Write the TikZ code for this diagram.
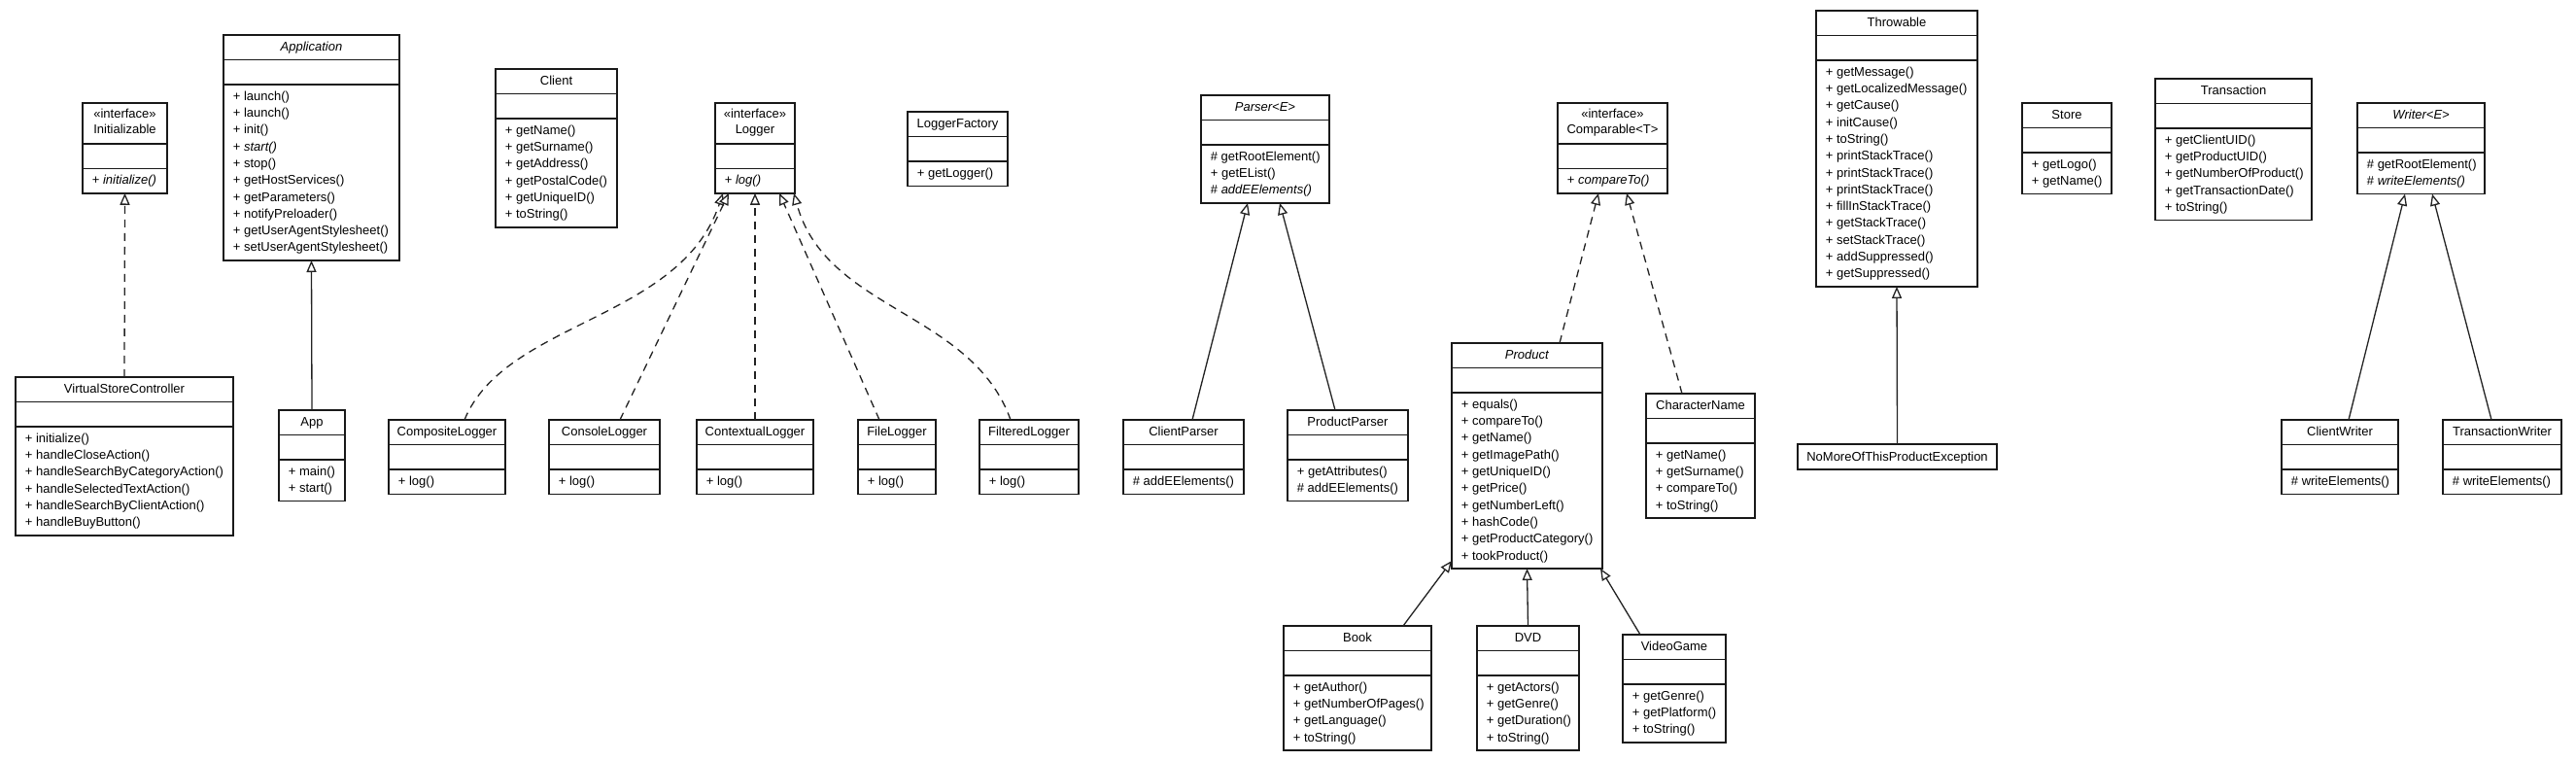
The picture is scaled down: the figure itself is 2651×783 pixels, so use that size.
\documentclass[tikz,border=0pt]{standalone}
\usepackage{fontspec}
\setmainfont{Liberation Sans}
\usetikzlibrary{arrows.meta}
\definecolor{boxcol}{RGB}{25,25,25}
\definecolor{linecol}{RGB}{35,35,35}
\newcommand\umlfont{\fontsize{13pt}{17.3pt}\selectfont}
\tikzset{
  classbox/.style={draw=boxcol, line width=1.5pt, fill=white, inner sep=0pt, outer sep=0pt},
  compline/.style={draw=boxcol, line width=1.5pt},
  nametext/.style={inner sep=0pt, anchor=base, font=\umlfont},
  optext/.style={inner sep=0pt, anchor=base west, font=\umlfont},
  gen/.style={draw=linecol, line width=1.3pt, -{Triangle[open, length=12pt, width=10pt, fill=white]}},
  real/.style={gen, dash pattern=on 8pt off 6pt},
}
% body: id, left, top, width, name height, n ops, ops list
\newcommand\umlbody[7]{%
  \pgfmathsetmacro\umlh{#5+25.5+8+17.3*#6}
  \node[classbox, minimum width=#4pt, minimum height=\umlh pt, anchor=north west] (#1) at (#2,#3) {};
  \draw[compline] ([yshift=-#5pt]#1.north west) -- ([yshift=-#5pt]#1.north east);
  \pgfmathsetmacro\umlb{#5+25.5}
  \draw[compline] ([yshift=-\umlb pt]#1.north west) -- ([yshift=-\umlb pt]#1.north east);
  \foreach \m [count=\i from 0] in {#7} {
    \pgfmathsetmacro\umly{#5+25.5+16.3+17.3*\i}
    \node[optext] (#1-op\i) at ([xshift=9.7pt, yshift=-\umly pt]#1.north west) {\m};
  }
}
% class: id, left, top, width, name, n, ops
\newcommand\umlclass[7]{%
  \umlbody{#1}{#2}{#3}{#4}{25.5}{#6}{#7}
  \node[nametext] (#1-name) at ([yshift=-16.8pt]#1.north) {#5};
}
\newcommand\umliface[7]{%
  \umlbody{#1}{#2}{#3}{#4}{42}{#6}{#7}
  \node[nametext] (#1-st) at ([yshift=-15.7pt]#1.north) {«interface»};
  \node[nametext] (#1-name) at ([yshift=-32pt]#1.north) {#5};
}
\begin{document}
\begin{tikzpicture}[x=1pt, y=-1pt]
\fill[white] (0,0) rectangle (2651,783);
\useasboundingbox (0,0) rectangle (2651,783);

\umliface{init}{85}{106}{87}{Initializable}{1}{+ \textit{initialize()}}
\umlclass{application}{230}{36}{181}{\textit{Application}}{10}{+ launch(), + launch(), + init(), + \textit{start()}, + stop(), + getHostServices(), + getParameters(), + notifyPreloader(), + getUserAgentStylesheet(), + setUserAgentStylesheet()}
\umlclass{vsc}{16}{388}{224}{VirtualStoreController}{6}{+ initialize(), + handleCloseAction(), + handleSearchByCategoryAction(), + handleSelectedTextAction(), + handleSearchByClientAction(), + handleBuyButton()}
\umlclass{app}{287}{422}{68}{App}{2}{+ main(), + start()}
\umlclass{client}{510}{71}{125}{Client}{6}{+ getName(), + getSurname(), + getAddress(), + getPostalCode(), + getUniqueID(), + toString()}
\umliface{logger}{736}{106}{82}{Logger}{1}{+ \textit{log()}}
\umlclass{loggerfactory}{934}{115}{103}{LoggerFactory}{1}{+ getLogger()}
\umlclass{complog}{400}{432}{120}{CompositeLogger}{1}{+ log()}
\umlclass{conslog}{565}{432}{114}{ConsoleLogger}{1}{+ log()}
\umlclass{ctxlog}{717}{432}{120}{ContextualLogger}{1}{+ log()}
\umlclass{filelog}{883}{432}{80}{FileLogger}{1}{+ log()}
\umlclass{filtlog}{1008}{432}{102}{FilteredLogger}{1}{+ log()}
\umlclass{parser}{1236}{98}{132}{\textit{Parser<E>}}{3}{\# getRootElement(), + getEList(), \# \textit{addEElements()}}
\umlclass{clientparser}{1156}{432}{124}{ClientParser}{1}{\# addEElements()}
\umlclass{productparser}{1325}{422}{124}{ProductParser}{2}{+ getAttributes(), \# addEElements()}
\umliface{comparable}{1603}{106}{113}{Comparable<T>}{1}{+ \textit{compareTo()}}
\umlclass{product}{1494}{353}{155}{\textit{Product}}{10}{+ equals(), + compareTo(), + getName(), + getImagePath(), + getUniqueID(), + getPrice(), + getNumberLeft(), + hashCode(), + getProductCategory(), + tookProduct()}
\umlclass{charname}{1694}{405}{112}{CharacterName}{4}{+ getName(), + getSurname(), + compareTo(), + toString()}
\umlclass{book}{1321}{644}{152}{Book}{4}{+ getAuthor(), + getNumberOfPages(), + getLanguage(), + toString()}
\umlclass{dvd}{1520}{644}{105}{DVD}{4}{+ getActors(), + getGenre(), + getDuration(), + toString()}
\umlclass{videogame}{1670}{653}{106}{VideoGame}{3}{+ getGenre(), + getPlatform(), + toString()}
\umlclass{throwable}{1869}{11}{166}{Throwable}{13}{+ getMessage(), + getLocalizedMessage(), + getCause(), + initCause(), + toString(), + printStackTrace(), + printStackTrace(), + printStackTrace(), + fillInStackTrace(), + getStackTrace(), + setStackTrace(), + addSuppressed(), + getSuppressed()}
\node[classbox, minimum width=205pt, minimum height=26pt, anchor=north west] (nomore) at (1850,457) {};
\node[nametext] (nomore-name) at ([yshift=-17.3pt]nomore.north) {NoMoreOfThisProductException};
\umlclass{store}{2081}{106}{92}{Store}{2}{+ getLogo(), + getName()}
\umlclass{transaction}{2218}{81}{161}{Transaction}{5}{+ getClientUID(), + getProductUID(), + getNumberOfProduct(), + getTransactionDate(), + toString()}
\umlclass{writer}{2426}{106}{131}{\textit{Writer<E>}}{2}{\# getRootElement(), \# \textit{writeElements()}}
\umlclass{clientwriter}{2348}{432}{120}{ClientWriter}{1}{\# writeElements()}
\umlclass{transwriter}{2514}{432}{122}{TransactionWriter}{1}{\# writeElements()}

% connectors
\draw[real] (vsc.north) -- (init.south);
\draw[gen] (app.north) -- (application.south);
\draw[real] ([xshift=18pt]complog.north) .. controls (520,330) and (700,330) .. ([xshift=-33pt]logger.south);
\draw[real] ([xshift=16pt]conslog.north) -- ([xshift=-27pt]logger.south);
\draw[real] (ctxlog.north) -- (logger.south);
\draw[real] ([xshift=-18pt]filelog.north) -- ([xshift=25pt]logger.south);
\draw[real] ([xshift=-19pt]filtlog.north) .. controls (1000,320) and (850,320) .. ([xshift=40pt]logger.south);
\draw[gen] ([xshift=9pt]clientparser.north) -- ([xshift=-18pt]parser.south);
\draw[gen] ([xshift=-13pt]productparser.north) -- ([xshift=15pt]parser.south);
\draw[real] ([xshift=33.5pt]product.north) -- ([xshift=-14.5pt]comparable.south);
\draw[real] ([xshift=-19pt]charname.north) -- ([xshift=14.5pt]comparable.south);
\draw[gen] ([xshift=47pt]book.north) -- ([yshift=8pt]product.south west);
\draw[gen] (dvd.north) -- (product.south);
\draw[gen] ([xshift=-35pt]videogame.north) -- ([xshift=-2pt]product.south east);
\draw[gen] (nomore.north) -- (throwable.south);
\draw[gen] ([xshift=9pt]clientwriter.north) -- ([xshift=-16.5pt]writer.south);
\draw[gen] ([xshift=-11pt]transwriter.north) -- ([xshift=11.5pt]writer.south);
\end{tikzpicture}
\end{document}
